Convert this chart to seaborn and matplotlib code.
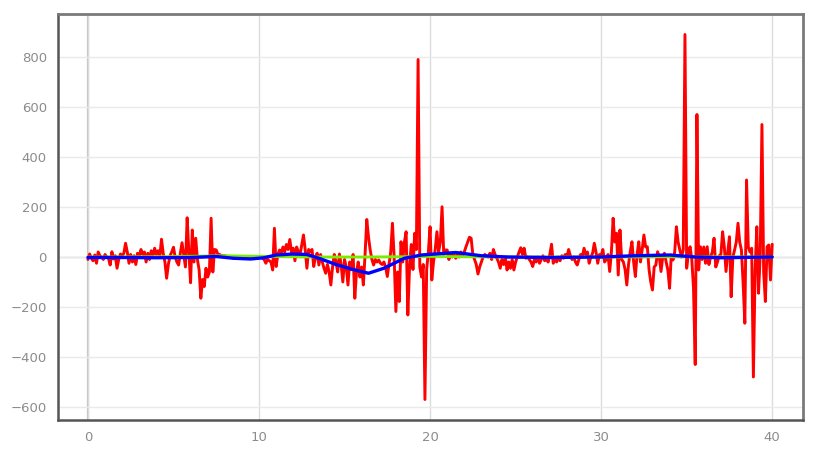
import numpy as np
import pandas as pd
import matplotlib
matplotlib.use('Agg')
import matplotlib.pyplot as plt
import seaborn as sns

# red series, one value every 0.1 from x=0 to x=40
red_vals = [
    -10, 12, -5, -15, 8, -25, 20, 5, 0, -10,
    10, 0, -5, -32, 21, -8, 5, -45, -10, 12,
    5, 15, 55, 20, -25, 10, -20, 5, -30, 15,
    0, 30, 10, 20, -20, 15, -10, 25, 5, 35,
    10, 25, 0, 71, 15, -20, -85, -30, 5, 20,
    39, 0, -20, -32, 15, 57, 10, -40, 157, 20,
    -103, 108, -20, 75, -10, -52, -165, -90, -118, -45,
    -80, -60, 155, -60, 30, 28, 10, 10, 5, 5,
    5, 3, 2, 0, -2, -5, -5, -5, -5, -5,
    -5, -5, -5, -5, -5, -5, -3, -2, 0, 0,
    0, 0, -5, -10, -25, -10, -15, -20, -52, 115,
    -38, 10, 28, 15, 40, 20, 50, 30, 70, 20,
    35, -15, 40, 20, 10, 50, 88, 30, -45, 30,
    20, 30, -38, 0, 15, -32, 10, -20, -45, -65,
    -30, -60, -112, -40, 10, -20, -60, 12, -30, -100,
    -10, -40, -112, -20, -50, 10, -165, -60, -20, -80,
    -40, -112, 10, 150, 80, 28, -10, -32, -10, -20,
    -12, -25, -30, -20, -40, -78, -30, 20, 135, 0,
    -218, -60, -178, 61, -20, 60, 101, -232, -40, 50,
    -50, 95, 30, 790, -40, -80, -30, -570, -50, 20,
    121, -92, -20, 30, 101, 20, 60, 201, 10, 28,
    28, -10, 15, 0, 10, -5, 10, 0, 20, 5,
    20, 41, 60, 79, 75, 10, -10, -30, -68, -40,
    -20, 0, 10, 5, 0, 15, -10, 30, 10, -5,
    -20, -45, -10, -30, 0, -52, -20, -45, -10, -52,
    -20, 0, 20, 37, 10, 35, -5, 0, -10, -20,
    -38, -10, -20, 0, -25, -10, 5, -15, -5, -20,
    10, 51, -25, -10, -20, 0, -15, 5, -5, 10,
    0, 30, 5, -10, 0, -20, -32, -10, 10, 0,
    35, 10, 20, -25, 0, 15, 55, 20, -25, 10,
    5, 30, -20, -10, 10, -58, 20, 155, 60, 95,
    -72, 108, -10, -20, -50, -112, -30, 20, 61, -20,
    -78, 10, 61, -20, 30, 88, 40, 41, -50, -100,
    -132, -40, -32, 21, 0, -58, 0, 15, -20, -52,
    -125, 8, -12, 20, 121, 60, 28, 0, 30, 890,
    -45, 20, 41, -10, -125, -430, 570, -52, 41, -10,
    40, -25, 41, -30, 0, 20, 75, -40, -20, 5,
    10, 101, 41, -58, 20, 81, -159, 0, 28, 60,
    135, 60, 28, -105, -265, 308, 41, 20, 35, -480,
    -52, 121, -145, 10, 530, -60, -178, 41, 48, -92,
    51,
]
red_x = [i / 10 for i in range(len(red_vals))]

# green trend (nearly flat)
green_x = [0, 4, 8, 10, 13, 16, 20, 25, 30, 35, 40]
green_vals = [0, 1, 5, 3, 0, 0, 2, 0, 0, 1, 0]

# blue smoothed line
blue_x = [0, 2, 4, 6, 7.5, 8.5, 9.5, 10.3, 11, 12, 12.8, 13.5, 14.5, 15.5, 16.4,
          17.3, 18.5, 19.5, 21.5, 23, 24.5, 27, 30, 32, 34, 35.5, 37, 40]
blue_vals = [-2, -2, -3, -2, 2, -5, -8, -3, 8, 12, 10, -5, -30, -50, -65,
             -45, -5, 8, 18, 5, 0, -2, 0, 5, 8, 0, -3, 0]

y_ticks = [-600, -400, -200, 0, 200, 400, 600, 800]
x_ticks = [0, 10, 20, 30, 40]

red_df = pd.DataFrame({'x': red_x, 'y': red_vals})
green_df = pd.DataFrame({'x': green_x, 'y': green_vals})
blue_df = pd.DataFrame({'x': blue_x, 'y': blue_vals})

sns.set_style('white')
plt.rcParams['font.family'] = ['DejaVu Sans']

fig = plt.figure(figsize=(8.21, 4.5), dpi=100)
ax = fig.add_axes([58 / 821, 1 - 420 / 450, 745 / 821, 406 / 450])

sns.lineplot(data=red_df, x='x', y='y', ax=ax, color='#ff0000', linewidth=2.1,
             estimator=None, sort=False)
sns.lineplot(data=green_df, x='x', y='y', ax=ax, color='#77ee00', linewidth=2,
             estimator=None, sort=False)
sns.lineplot(data=blue_df, x='x', y='y', ax=ax, color='#0000ff', linewidth=2.4,
             estimator=None, sort=False)

ax.set_xlim(-1.75, 41.8)
ax.set_ylim(-652, 972)
ax.set_xticks(x_ticks)
ax.set_yticks(y_ticks)
ax.set_xlabel('')
ax.set_ylabel('')

ax.grid(True, axis='y', color='#eaeaea', linewidth=1)
ax.grid(True, axis='x', color='#dcdcdc', linewidth=1)
ax.axhline(0, color='#c4c4c4', linewidth=1, zorder=0.5)
ax.axvline(0, color='#c4c4c4', linewidth=1.6, zorder=0.5)
ax.set_axisbelow(True)

for side in ['left', 'bottom']:
    ax.spines[side].set_color('#555555')
    ax.spines[side].set_linewidth(1.8)
for side in ['top', 'right']:
    ax.spines[side].set_color('#7a7a7a')
    ax.spines[side].set_linewidth(2)

ax.tick_params(axis='both', length=0, labelsize=9.5, colors='#8c8c8c', pad=8)

fig.savefig('out.png', dpi=100)
